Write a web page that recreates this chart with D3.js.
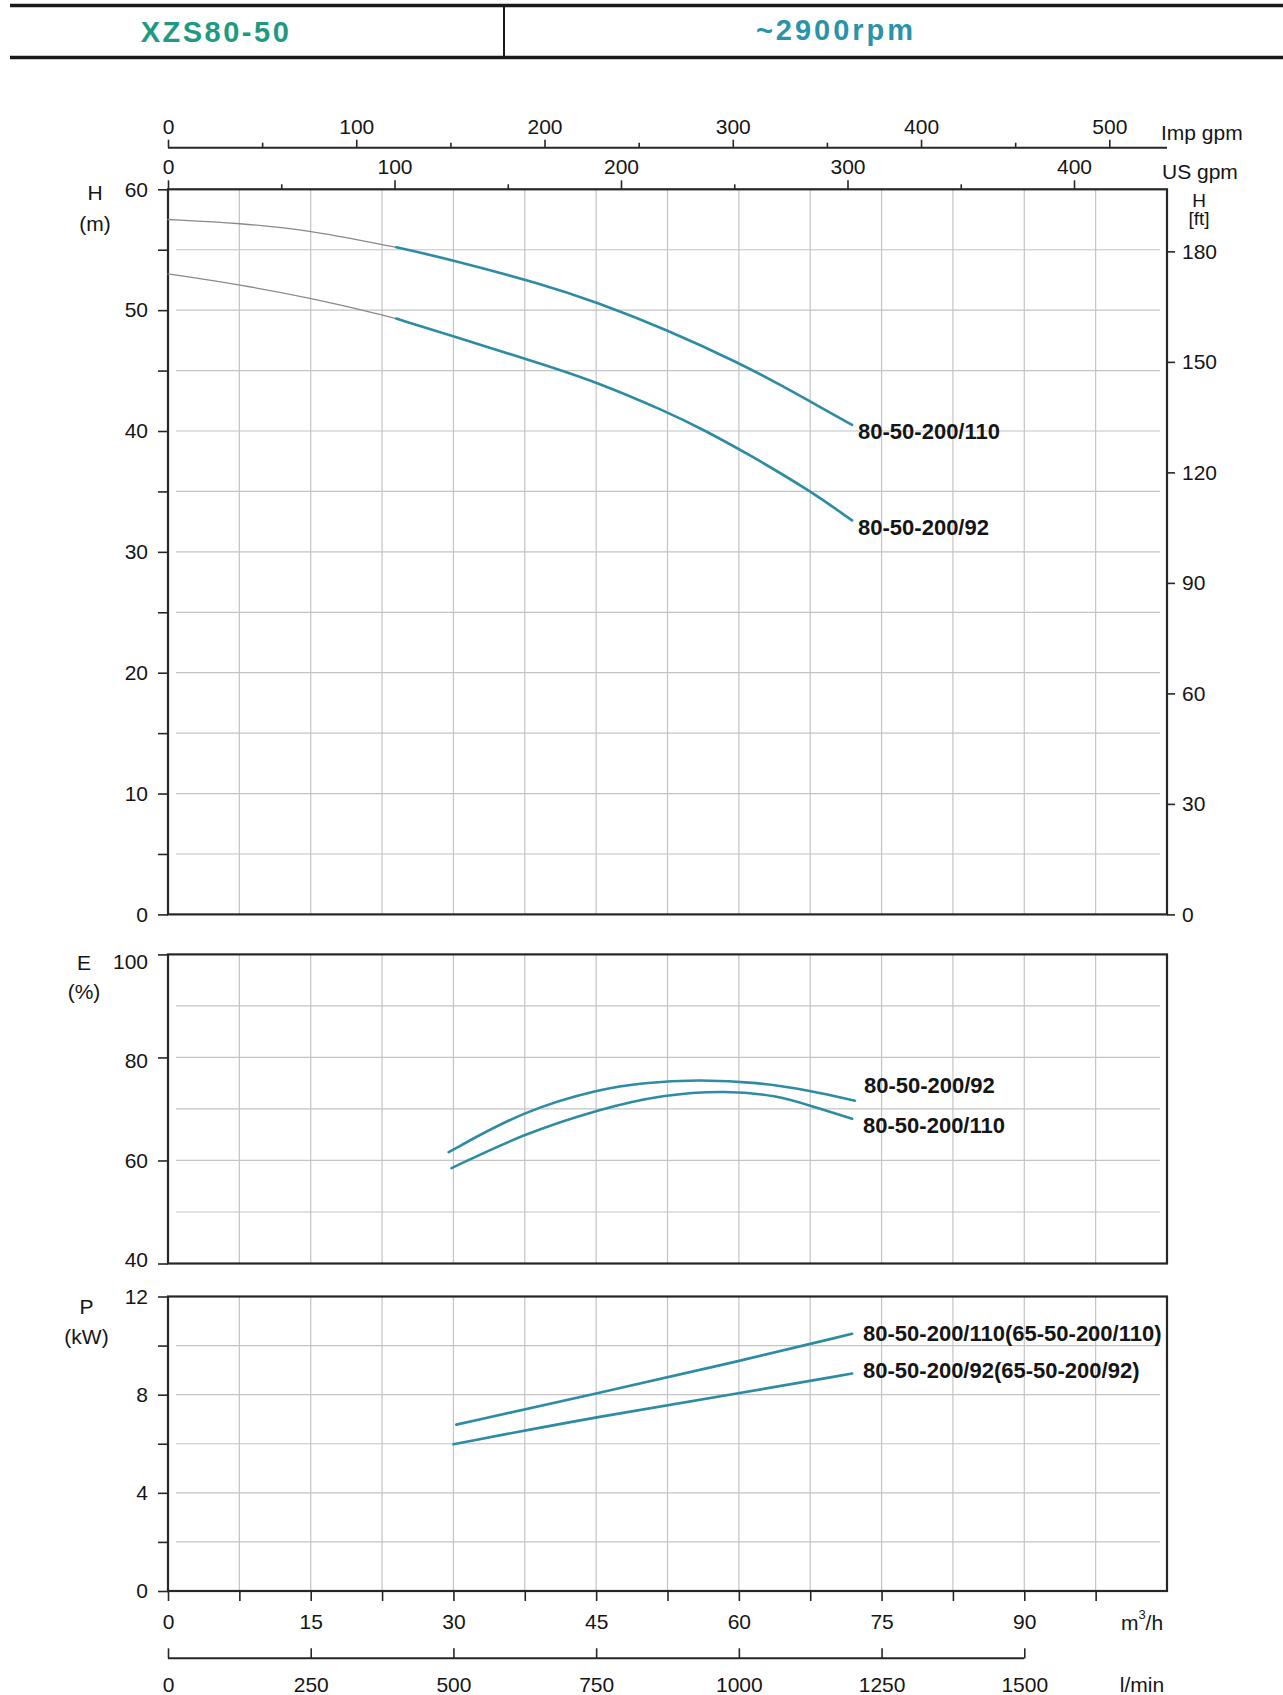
<!DOCTYPE html>
<html><head><meta charset="utf-8">
<script src="https://cdn.jsdelivr.net/npm/d3@7"></script>
<style>
body{margin:0;background:#fff;}
svg{display:block;font-family:"Liberation Sans",Arial,Helvetica,sans-serif;}
</style></head><body>
<svg id="c" width="1283" height="1695"></svg>
<script>
// ---------- data ----------
const headFlow110 = [0, 7.6, 15, 22.6, 24, 29.7, 39.1, 44.9, 52.4, 60.1, 64.3, 67.6, 71.9];
const head110     = [57.5, 57.2, 56.6, 55.4, 55.2, 54.2, 52.2, 50.7, 48.4, 45.6, 43.85, 42.4, 40.5];
const headFlow92  = [0, 7.6, 15, 22.6, 24, 29.7, 39.1, 44.9, 52.4, 56.3, 61.2, 67.6, 71.9];
const head92      = [53.0, 52.1, 51.0, 49.6, 49.3, 47.9, 45.6, 44.1, 41.6, 40.1, 38.0, 35.0, 32.6];

const effFlow92  = [29.5, 37.4, 45.4, 50, 55.5, 62, 67.4, 72.2];
const eff92      = [61.6, 69.7, 73.9, 75.1, 75.7, 75.2, 73.6, 71.6];
const effFlow110 = [29.8, 37.4, 45.4, 52, 58.7, 64, 67.4, 71.9];
const eff110     = [58.5, 65.2, 70.0, 72.8, 73.6, 72.6, 70.7, 68.1];

const powFlow110 = [30.3, 44.9, 60, 71.9];
const pow110     = [6.78, 8.04, 9.36, 10.48];
const powFlow92  = [30.0, 44.9, 60, 71.9];
const pow92      = [5.98, 7.09, 8.05, 8.86];

const hTickLabels    = [0, 10, 20, 30, 40, 50, 60];
const eTickLabels    = [40, 60, 80, 100];
const pTickLabels    = [0, 4, 8, 12];
const ftTickLabels   = [0, 30, 60, 90, 120, 150, 180];
const m3hTickLabels  = [0, 15, 30, 45, 60, 75, 90];
const lminTickLabels = [0, 250, 500, 750, 1000, 1250, 1500];
const impTickLabels  = [0, 100, 200, 300, 400, 500];
const usTickLabels   = [0, 100, 200, 300, 400];

const modelTitle = "XZS80-50";
const speedTitle = "~2900rpm";
const headLabels  = ["80-50-200/110", "80-50-200/92"];
const effLabels   = ["80-50-200/92", "80-50-200/110"];
const powLabels   = ["80-50-200/110(65-50-200/110)", "80-50-200/92(65-50-200/92)"];

// ---------- layout ----------
const svg = d3.select("#c");
const X0 = 168, X1 = 1167;
const H_TOP = 189.3, H_BOT = 914.4, E_TOP = 954.4, E_BOT = 1263.5, P_TOP = 1296.5, P_BOT = 1591;
const CURVE = "#2d8ca3", GRID = "#c4c4c4", FRAME = "#262626", TXT = "#151515";
const FS = 21;

const x    = d3.scaleLinear().domain([0, 105]).range([X0, X1]);
const yH   = d3.scaleLinear().domain([0, 60]).range([H_BOT, H_TOP]);
const yFt  = d3.scaleLinear().domain([0, 60 / 0.3048]).range([H_BOT, H_TOP]);
const yE   = d3.scaleLinear().domain([40, 100]).range([E_BOT, E_TOP]);
const yP   = d3.scaleLinear().domain([0, 12]).range([P_BOT, P_TOP]);
const xImp = d3.scaleLinear().domain([0, 500]).range([X0, 1109.3]);
const xUS  = d3.scaleLinear().domain([0, 400]).range([X0, 1074]);
const xL   = d3.scaleLinear().domain([0, 1500]).range([x(0), x(90)]);

// ---------- header ----------
const hdr = svg.append("g");
hdr.append("line").attr("x1", 10).attr("x2", 1283).attr("y1", 5.5).attr("y2", 5.5).attr("stroke", "#1a1a1a").attr("stroke-width", 3.5);
hdr.append("line").attr("x1", 10).attr("x2", 1283).attr("y1", 57.5).attr("y2", 57.5).attr("stroke", "#1a1a1a").attr("stroke-width", 3.5);
hdr.append("line").attr("x1", 504).attr("x2", 504).attr("y1", 5).attr("y2", 57).attr("stroke", "#1a1a1a").attr("stroke-width", 2);
hdr.append("text").attr("x", 216).attr("y", 32).attr("text-anchor", "middle").attr("dominant-baseline", "central")
  .attr("font-size", 29).attr("font-weight", "bold").attr("letter-spacing", 2.5).attr("fill", "#1f9a80").text(modelTitle);
hdr.append("text").attr("x", 836).attr("y", 30).attr("text-anchor", "middle").attr("dominant-baseline", "central")
  .attr("font-size", 29).attr("font-weight", "bold").attr("letter-spacing", 3).attr("fill", "#2b93a9").text(speedTitle);

// ---------- grids ----------
function grid(ys, top, bot, hVals) {
  const g = svg.append("g").attr("stroke", GRID).attr("stroke-width", 1.2);
  g.selectAll("line.v").data(d3.range(7.5, 105, 7.5)).join("line").attr("class", "v")
    .attr("x1", d => x(d)).attr("x2", d => x(d)).attr("y1", top).attr("y2", bot);
  g.selectAll("line.h").data(hVals).join("line").attr("class", "h")
    .attr("x1", X0 + 8).attr("x2", X1 - 7).attr("y1", d => ys(d)).attr("y2", d => ys(d));
}
grid(yH, H_TOP, H_BOT, d3.range(5, 60, 5));
grid(yE, E_TOP, E_BOT, d3.range(50, 100, 10));
grid(yP, P_TOP, P_BOT, d3.range(2, 12, 2));

// ---------- frames ----------
[[H_TOP, H_BOT], [E_TOP, E_BOT], [P_TOP, P_BOT]].forEach(([t, b]) => {
  svg.append("rect").attr("x", X0).attr("y", t).attr("width", X1 - X0).attr("height", b - t)
    .attr("fill", "none").attr("stroke", FRAME).attr("stroke-width", 2.2);
});

function styleAxis(g) {
  g.select(".domain").remove();
  g.selectAll("line").attr("stroke", FRAME).attr("stroke-width", 1.6);
  g.selectAll("text").attr("font-size", FS).attr("fill", TXT);
  g.attr("font-family", null);
}
const fmt = d3.format("d");

// left axes
const axH = svg.append("g").attr("transform", `translate(${X0},0)`)
  .call(d3.axisLeft(yH).tickValues(d3.range(0, 61, 5)).tickSize(10).tickPadding(10)
    .tickFormat(d => hTickLabels.includes(d) ? fmt(d) : ""));
styleAxis(axH);
const axE = svg.append("g").attr("transform", `translate(${X0},0)`)
  .call(d3.axisLeft(yE).tickValues(eTickLabels).tickSize(10).tickPadding(10).tickFormat(fmt));
styleAxis(axE);
axE.selectAll("text").attr("y", d => -3.5 + (d - 40) * 10.5 / 60);
const axP = svg.append("g").attr("transform", `translate(${X0},0)`)
  .call(d3.axisLeft(yP).tickValues(d3.range(0, 13, 2)).tickSize(10).tickPadding(10)
    .tickFormat(d => pTickLabels.includes(d) ? fmt(d) : ""));
styleAxis(axP);

// right ft axis
const axFt = svg.append("g").attr("transform", `translate(${X1},0)`)
  .call(d3.axisRight(yFt).tickValues(ftTickLabels).tickSize(8).tickPadding(7).tickFormat(fmt));
styleAxis(axFt);

// top Imp gpm axis
const IMP_Y = 147.7;
svg.append("line").attr("x1", X0).attr("x2", X1).attr("y1", IMP_Y).attr("y2", IMP_Y).attr("stroke", FRAME).attr("stroke-width", 2);
const axImp = svg.append("g").attr("transform", `translate(0,${IMP_Y})`)
  .call(d3.axisTop(xImp).tickValues(impTickLabels).tickSize(8).tickFormat(fmt));
styleAxis(axImp);
axImp.selectAll("text").attr("y", -21).attr("dy", "0.35em");
const axImpMinor = svg.append("g").attr("transform", `translate(0,${IMP_Y})`)
  .call(d3.axisTop(xImp).tickValues(impTickLabels.slice(0, -1).map(v => v + 50)).tickSize(5).tickFormat(""));
styleAxis(axImpMinor);

// top US gpm axis (on top edge of head chart)
const axUS = svg.append("g").attr("transform", `translate(0,${H_TOP})`)
  .call(d3.axisTop(xUS).tickValues(usTickLabels).tickSize(9).tickFormat(fmt));
styleAxis(axUS);
axUS.selectAll("text").attr("y", -22.5).attr("dy", "0.35em");
const axUSMinor = svg.append("g").attr("transform", `translate(0,${H_TOP})`)
  .call(d3.axisTop(xUS).tickValues(usTickLabels.slice(0, -1).map(v => v + 50)).tickSize(5).tickFormat(""));
styleAxis(axUSMinor);

// bottom m3/h axis
const axQ = svg.append("g").attr("transform", `translate(0,${P_BOT})`)
  .call(d3.axisBottom(x).tickValues(d3.range(0, 100, 7.5)).tickSize(10)
    .tickFormat(d => m3hTickLabels.includes(d) ? fmt(d) : ""));
styleAxis(axQ);
axQ.selectAll("text").attr("y", 31).attr("dy", "0.35em");

// l/min axis
const L_Y = 1658.3;
svg.append("line").attr("x1", xL(0)).attr("x2", xL(1500)).attr("y1", L_Y).attr("y2", L_Y).attr("stroke", FRAME).attr("stroke-width", 2);
const axL = svg.append("g").attr("transform", `translate(0,${L_Y})`)
  .call(d3.axisTop(xL).tickValues(lminTickLabels).tickSize(10).tickFormat(fmt));
styleAxis(axL);
axL.selectAll("text").attr("y", 26).attr("dy", "0.35em");

// ---------- axis titles ----------
function label(xp, yp, txt, opts = {}) {
  return svg.append("text").attr("x", xp).attr("y", yp).attr("text-anchor", opts.anchor || "middle")
    .attr("dominant-baseline", "central").attr("font-size", opts.size || FS)
    .attr("font-weight", opts.bold ? "bold" : null).attr("fill", TXT).text(txt);
}
label(95, 192, "H"); label(95, 223, "(m)");
label(84, 962, "E"); label(84, 991, "(%)");
label(86.5, 1306, "P"); label(86.5, 1336, "(kW)");
label(1199, 200, "H", { size: 19 }); label(1199, 218, "[ft]", { size: 19 });
label(1161, 132, "Imp gpm", { anchor: "start" });
label(1162, 171, "US gpm", { anchor: "start" });
label(1142, 1684, "l/min");
const m3 = svg.append("text").attr("x", 1142).attr("y", 1622).attr("text-anchor", "middle")
  .attr("dominant-baseline", "central").attr("font-size", FS).attr("fill", TXT);
m3.append("tspan").text("m");
m3.append("tspan").attr("font-size", 13).attr("dy", -8).text("3");
m3.append("tspan").attr("dy", 8).text("/h");

// ---------- curves ----------
const zip = (a, b) => a.map((v, i) => [v, b[i]]);
function drawCurve(pts, ys, color, width) {
  svg.append("path").datum(pts).attr("fill", "none").attr("stroke", color).attr("stroke-width", width)
    .attr("stroke-linecap", "round")
    .attr("d", d3.line().x(d => x(d[0])).y(d => ys(d[1])).curve(d3.curveBasis));
}
const SPLIT = 24;
[[headFlow110, head110], [headFlow92, head92]].forEach(([q, h]) => {
  const pts = zip(q, h);
  drawCurve(pts.filter(p => p[0] <= SPLIT), yH, "#8a8a8a", 1.3);
  drawCurve(pts.filter(p => p[0] >= SPLIT), yH, CURVE, 2.6);
});
drawCurve(zip(effFlow92, eff92), yE, CURVE, 2.6);
drawCurve(zip(effFlow110, eff110), yE, CURVE, 2.6);
drawCurve(zip(powFlow110, pow110), yP, CURVE, 2.6);
drawCurve(zip(powFlow92, pow92), yP, CURVE, 2.6);

// ---------- curve labels ----------
const last = a => a[a.length - 1];
label(x(last(headFlow110)) + 6, yH(last(head110)) + 7, headLabels[0], { anchor: "start", bold: true, size: 22 });
label(x(last(headFlow92)) + 6, yH(last(head92)) + 7, headLabels[1], { anchor: "start", bold: true, size: 22 });
label(x(last(effFlow92)) + 9, yE(last(eff92)) - 15, effLabels[0], { anchor: "start", bold: true, size: 22 });
label(x(last(effFlow110)) + 11, yE(last(eff110)) + 7, effLabels[1], { anchor: "start", bold: true, size: 22 });
label(x(last(powFlow110)) + 11, yP(last(pow110)), powLabels[0], { anchor: "start", bold: true, size: 22 });
label(x(last(powFlow92)) + 11, yP(last(pow92)) - 3, powLabels[1], { anchor: "start", bold: true, size: 22 });
</script>
</body></html>
